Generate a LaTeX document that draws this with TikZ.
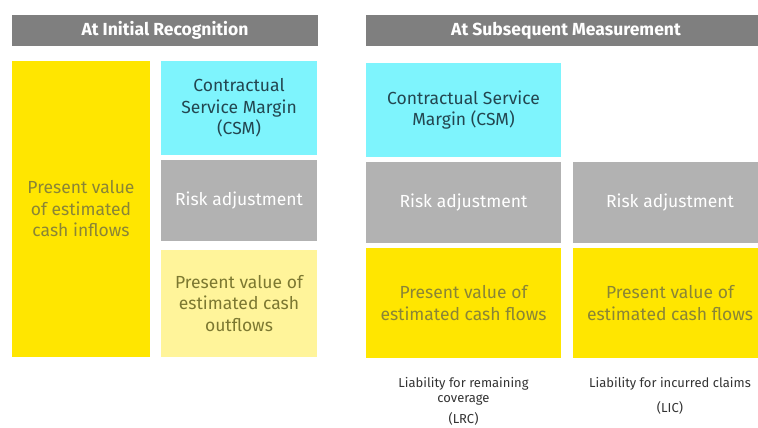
\documentclass[tikz,border=0pt]{standalone}
\usepackage{fontspec}
\setmainfont{Fira Sans}
\definecolor{hdrgray}{HTML}{7F7F7F}
\definecolor{eyyellow}{HTML}{FFE600}
\definecolor{paleyellow}{HTML}{FFF49A}
\definecolor{csmcyan}{HTML}{7EF4FD}
\definecolor{riskgray}{HTML}{B2B2B2}
\definecolor{olivetxt}{HTML}{8A8536}
\definecolor{tealtxt}{HTML}{234650}
\definecolor{labeltxt}{HTML}{333333}
\begin{document}
\begin{tikzpicture}[x=1pt,y=-1pt,
  blk/.style={inner sep=0pt,align=center,font=\fontsize{17.5}{21.5}\selectfont},
  hdr/.style={blk,text=white,font=\fontsize{17.5}{20}\selectfont\bfseries},
  yel/.style={blk,text=olivetxt},
  pale/.style={blk,text=olivetxt!90!black},
  csm/.style={blk,text=tealtxt},
  risk/.style={blk,text=white},
  captext/.style={inner sep=0pt,align=center,text=labeltxt,font=\fontsize{13}{15}\selectfont}]
\useasboundingbox (0,0) rectangle (758,428);
% column headers
\path[fill=hdrgray] (12,15) rectangle (318,46);
\node[hdr] (h1) at (165,30.5) {At Initial Recognition};
\path[fill=hdrgray] (366,15) rectangle (758,46);
\node[hdr] (h2) at (566,30.5) {At Subsequent Measurement};
% initial recognition blocks
\path[fill=eyyellow] (12,61) rectangle (150,357);
\node[yel] (inflow) at (81,209) {Present value\\of estimated\\cash inflows};
\path[fill=csmcyan] (161,61) rectangle (317,155);
\node[csm] (csm1) at (239,108) {Contractual\\Service Margin\\(CSM)};
\path[fill=riskgray] (161,160) rectangle (317,241);
\node[risk] (ra1) at (239,200.5) {Risk adjustment};
\path[fill=paleyellow] (161,250) rectangle (317,357);
\node[pale] (outflow) at (239,303.5) {Present value of\\estimated cash\\outflows};
% subsequent measurement: LRC column
\path[fill=csmcyan] (366,63) rectangle (561,157);
\node[csm] (csm2) at (463.5,110) {Contractual Service\\Margin (CSM)};
\path[fill=riskgray] (366,162) rectangle (561,243);
\node[risk] (ra2) at (463.5,202.5) {Risk adjustment};
\path[fill=eyyellow] (366,248) rectangle (561,358);
\node[yel] (cf2) at (463.5,303) {Present value of\\estimated cash flows};
% subsequent measurement: LIC column
\path[fill=riskgray] (573,162) rectangle (758,243);
\node[risk] (ra3) at (670,202.5) {Risk adjustment};
\path[fill=eyyellow] (573,248) rectangle (758,358);
\node[yel] (cf3) at (670,303) {Present value of\\estimated cash flows};
% captions
\node[captext] (lrc) at (463.5,391.5) {Liability for remaining\\coverage};
\node[captext] (lrcab) at (463.5,419) {(LRC)};
\node[captext] (lic) at (670,384) {Liability for incurred claims};
\node[captext] (licab) at (670,408) {(LIC)};
\end{tikzpicture}
\end{document}
